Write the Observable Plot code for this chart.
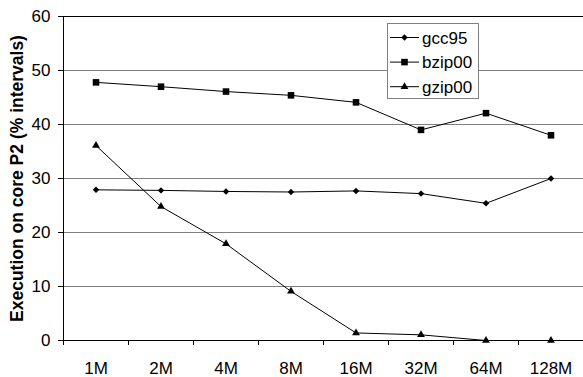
<!DOCTYPE html>
<html><head><meta charset="utf-8">
<script src="https://cdn.jsdelivr.net/npm/d3@7"></script>
<script src="https://cdn.jsdelivr.net/npm/@observablehq/plot@0.6"></script>
<style>body{margin:0;background:#fff} #chart{position:relative;width:583px;height:377px}</style>
</head><body><div id="chart"></div>
<script>
const sizes = ["1M","2M","4M","8M","16M","32M","64M","128M"];
const seriesNames = ["gcc95","bzip00","gzip00"];
const gcc95 = [27.9,27.8,27.6,27.5,27.7,27.2,25.4,30.0];
const bzip00 = [47.8,47.0,46.1,45.4,44.1,39.0,42.1,38.0];
const gzip00 = [36.1,24.8,17.9,9.1,1.4,1.05,0,0];
const yTicks = [0,10,20,30,40,50,60];
const yLabel = "Execution on core P2 (% intervals)";

const values = {gcc95, bzip00, gzip00};
const symbols = {gcc95: d3.symbolDiamond2, bzip00: d3.symbolSquare, gzip00: d3.symbolTriangle};
const radii = {gcc95: 2.9, bzip00: 3.7, gzip00: 2.9};
const rows = [];
seriesNames.forEach(s => values[s].forEach((v, i) => rows.push({series: s, i, value: v})));
const boundaries = d3.range(sizes.length + 1).map(i => i - 0.5);
const font = "'Liberation Sans', Arial, sans-serif";

const plot = Plot.plot({
  width: 583, height: 377,
  marginLeft: 63, marginRight: 0, marginTop: 16, marginBottom: 37,
  style: {fontFamily: font, fontSize: "17px", color: "#000", background: "#fff", overflow: "visible"},
  x: {type: "linear", domain: [-0.5, sizes.length - 0.5]},
  y: {domain: [0, 60]},
  marks: [
    Plot.ruleY(yTicks.filter(t => t > 0 && t < 60), {stroke: "#808080", strokeWidth: 1}),
    Plot.ruleY([60], {stroke: "#000", strokeWidth: 1}),
    Plot.axisY({ticks: yTicks, tickSize: 5, tickPadding: 8, label: null, tickFormat: d => d, strokeOpacity: 1}),
    Plot.axisX({ticks: boundaries, tickSize: 5, tickFormat: () => "", label: null, strokeOpacity: 1}),
    Plot.axisX({ticks: d3.range(sizes.length), tickSize: 0, tickPadding: 21, tickFormat: i => sizes[i], label: null}),
    Plot.ruleX([-0.5], {stroke: "#000"}),
    Plot.ruleY([0], {stroke: "#000"}),
    Plot.line(rows, {x: "i", y: "value", z: "series", stroke: "#000", strokeWidth: 1}),
    ...seriesNames.map(s => Plot.dot(rows.filter(d => d.series === s), {x: "i", y: "value", symbol: symbols[s], r: radii[s], fill: "#000", stroke: "none"})),
    Plot.text([yLabel], {text: d => d, frameAnchor: "left", textAnchor: "middle", dx: -46, rotate: -90, fontWeight: "bold", fontSize: 17.5})
  ]
});

// legend
const svg = d3.select(plot);
const lg = svg.append("g").attr("text-anchor", "start");
lg.append("rect").attr("x", 387.5).attr("y", 23.5).attr("width", 91).attr("height", 75)
  .attr("fill", "#fff").attr("stroke", "#808080");
seriesNames.forEach((s, k) => {
  const cy = 37.5 + k * 24.6;
  lg.append("line").attr("x1", 390).attr("x2", 419).attr("y1", cy).attr("y2", cy).attr("stroke", "#000");
  lg.append("path").attr("transform", `translate(404.5,${cy})`)
    .attr("d", d3.symbol(symbols[s], radii[s] * radii[s] * Math.PI)()).attr("fill", "#000");
  lg.append("text").attr("x", 422).attr("y", cy).attr("dy", "0.36em").attr("text-anchor", "start")
    .attr("font-family", font).attr("font-size", 17).text(s);
});

document.getElementById("chart").append(plot);
</script>
</body></html>
